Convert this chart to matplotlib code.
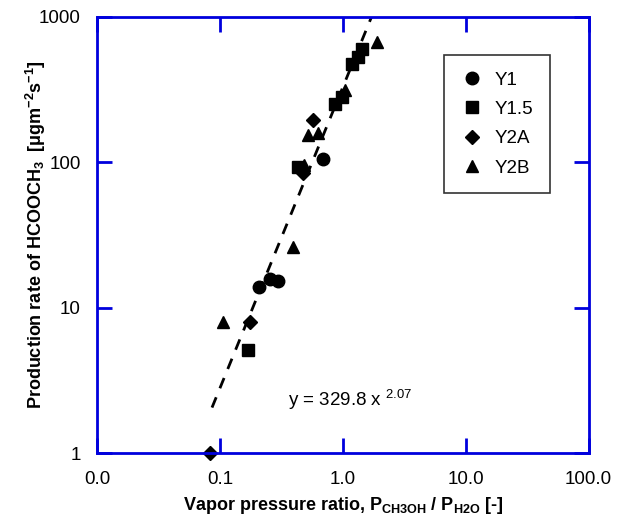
import numpy as np
import matplotlib
matplotlib.use("Agg")
import matplotlib.pyplot as plt

plt.rcParams['font.family'] = ['Liberation Sans', 'DejaVu Sans']
plt.rcParams['mathtext.fontset'] = 'custom'
plt.rcParams['mathtext.rm'] = 'Liberation Sans'
plt.rcParams['mathtext.bf'] = 'Liberation Sans:bold'
plt.rcParams['mathtext.it'] = 'Liberation Sans:italic'

# data
y1_x = [0.207, 0.255, 0.297, 0.69]
y1_y = [13.9, 15.8, 15.3, 105]

y15_x = [0.169, 0.43, 0.86, 0.98, 1.18, 1.32, 1.43]
y15_y = [5.1, 93, 252, 280, 476, 531, 603]

y2a_x = [0.083, 0.175, 0.47, 0.57]
y2a_y = [1.0, 7.95, 85, 196]

y2b_x = [0.106, 0.39, 0.48, 0.52, 0.63, 1.04, 1.89]
y2b_y = [8.0, 26.2, 96, 154, 159, 315, 674]

fit_a = 329.8
fit_b = 2.07
fit_xmin = 0.086
fit_xmax = 1.71

x_ticks = [0.01, 0.1, 1, 10, 100]
x_labels = ['0.0', '0.1', '1.0', '10.0', '100.0']
y_ticks = [1, 10, 100, 1000]
y_labels = ['1', '10', '100', '1000']

fig = plt.figure(figsize=(6.19, 5.28), dpi=100)
ax = fig.add_axes([0.157, 0.142, 0.794, 0.826])

xf = np.logspace(np.log10(fit_xmin), np.log10(fit_xmax), 100)
ax.plot(xf, fit_a * xf ** fit_b, '--', color='black', lw=2, dashes=(4, 3.5), zorder=1)

ms = 8
ax.plot(y1_x, y1_y, 'o', color='black', ms=ms + 1, ls='none', label='Y1', clip_on=False)
ax.plot(y15_x, y15_y, 's', color='black', ms=ms, ls='none', label='Y1.5', clip_on=False)
ax.plot(y2a_x, y2a_y, 'D', color='black', ms=ms - 1, ls='none', label='Y2A', clip_on=False)
ax.plot(y2b_x, y2b_y, '^', color='black', ms=ms, ls='none', label='Y2B', clip_on=False)

ax.set_xscale('log')
ax.set_yscale('log')
ax.set_xlim(0.01, 100)
ax.set_ylim(1, 1000)
ax.set_xticks(x_ticks)
ax.set_xticklabels(x_labels)
ax.set_yticks(y_ticks)
ax.set_yticklabels(y_labels)
ax.minorticks_off()

for s in ax.spines.values():
    s.set_color('#0000dd')
    s.set_linewidth(2)
ax.tick_params(which='major', direction='in', length=11, width=2, color='#0000dd',
               top=True, right=True, labelsize=13.5)
ax.tick_params(axis='x', pad=13)
ax.tick_params(axis='y', pad=12)

ax.set_xlabel(r'Vapor pressure ratio, P$_\mathbf{CH3OH}$ / P$_\mathbf{H2O}$ [-]',
              fontsize=13, fontweight='bold')
ax.set_ylabel(r'Production rate of HCOOCH$_\mathbf{3}$  [$\mathbf{\mu}$gm$^\mathbf{-2}$s$^\mathbf{-1}$]',
              fontsize=13, fontweight='bold')
ax.xaxis.set_label_coords(0.5, -0.096)
ax.yaxis.set_label_coords(-0.10, 0.5)

ax.text(0.357, 2.32, r'y = 329.8 x $^{2.07}$', fontsize=13.5, ha='left', va='center')

leg = ax.legend(loc='upper right', bbox_to_anchor=(0.94, 0.935), fontsize=13.5,
                frameon=True, fancybox=False, edgecolor='black', handletextpad=0.6,
                labelspacing=0.65, borderpad=0.9, handlelength=1.2)
leg.get_frame().set_linewidth(1.2)

fig.savefig('out.png', dpi=100)
